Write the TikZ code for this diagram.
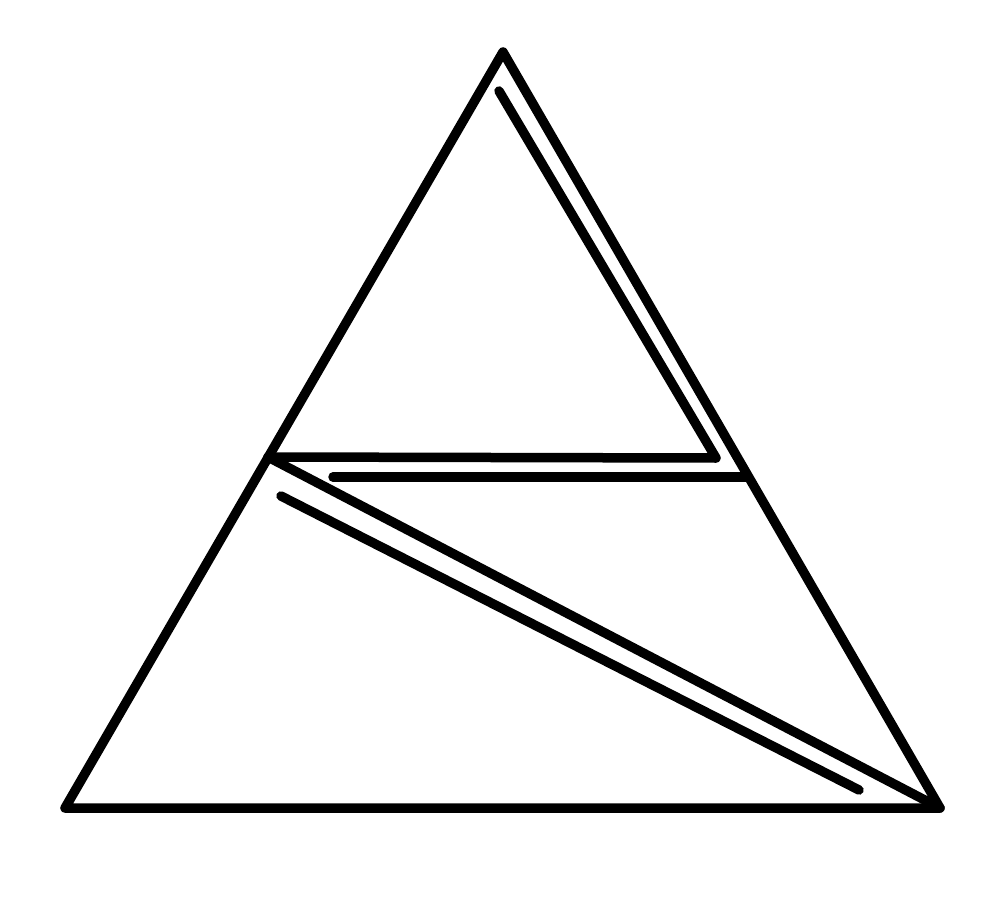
\documentclass[tikz,border=0pt]{standalone}
\begin{document}
\begin{tikzpicture}[x=1pt,y=-1pt,
  stroke/.style={line width=9.5pt,line cap=round,line join=round,black}]
\useasboundingbox[fill=white] (0,0) rectangle (999,923);
\coordinate (A) at (503,52);
\coordinate (L) at (65,808);
\coordinate (R) at (940,808);
\coordinate (M) at (268,457);
\coordinate (K) at (716,458);
\coordinate (T) at (499,91);
\coordinate (H1) at (333,477);
\coordinate (H2) at (746,477);
\coordinate (D1) at (281,496);
\coordinate (D2) at (859,790);
\draw[stroke] (A) -- (L) -- (R) -- cycle;
\draw[stroke] (M) -- (K) -- (T);
\draw[stroke] (H1) -- (H2);
\draw[stroke] (M) -- (R);
\draw[stroke] (D1) -- (D2);
\end{tikzpicture}
\end{document}
